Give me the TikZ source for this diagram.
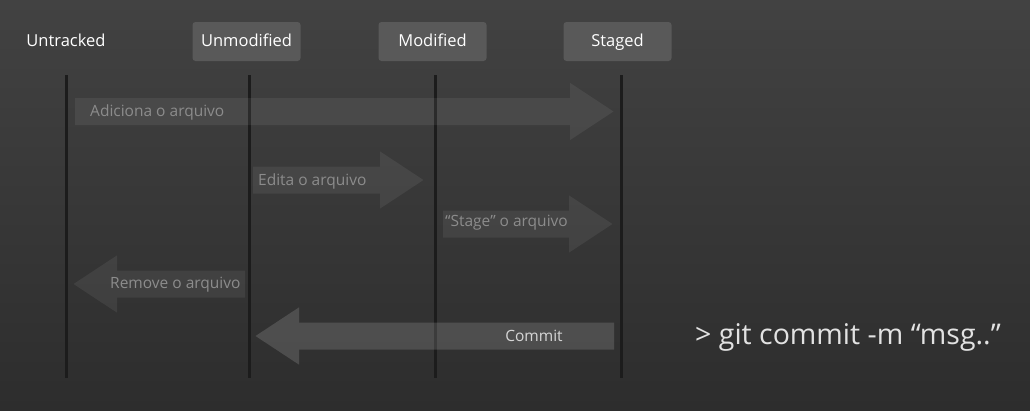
\documentclass[tikz,border=0pt]{standalone}
\usepackage{fontspec}
\setmainfont{Open Sans}
\usetikzlibrary{arrows.meta}

\definecolor{bgtop}{HTML}{424242}
\definecolor{bgbottom}{HTML}{2D2D2D}
\definecolor{boxgray}{HTML}{595959}
\definecolor{lanegray}{HTML}{1C1C1C}
\definecolor{labelgray}{HTML}{8C8C8C}
\definecolor{cmdgray}{HTML}{E2E2E2}

\begin{document}
\begin{tikzpicture}[x=1pt,y=-1pt,
  state/.style={rounded corners=3pt, fill=boxgray, minimum width=108pt, minimum height=39pt,
    text height=12pt, text depth=3pt, text=white, font=\fontsize{16.5}{19}\selectfont},
  lane/.style={line width=3pt, draw=lanegray},
  flow/.style={line width=27pt, draw=white, -{Triangle[width=54pt,length=44pt]}},
  flowtext/.style={text=labelgray, font=\fontsize{15.5}{18}\selectfont, anchor=base west, inner sep=0pt}]
\useasboundingbox (0,0) rectangle (1030,410);
\shade[top color=bgtop, middle color=bgtop!85!bgbottom, bottom color=bgbottom] (0,0) rectangle (1030,410);

% states
\node[state, fill=none] (untracked) at (66,41.5) {Untracked};
\node[state] (unmodified) at (246.5,41.5) {Unmodified};
\node[state] (modified) at (432.5,41.5) {Modified};
\node[state] (staged) at (617.5,41.5) {Staged};

% lanes
\foreach \name/\x in {untracked/66, unmodified/249, modified/435, staged/621} {
  \coordinate (\name-top) at (\x,75);
  \coordinate (\name-bot) at (\x,378);
  \draw[lane] (\name-top) -- (\name-bot);
}

% arrows
\coordinate (add-from) at (75,111.5);
\coordinate (add-to) at (614,111.5);
\coordinate (edit-from) at (253,180);
\coordinate (edit-to) at (424,180);
\coordinate (stage-from) at (443,224);
\coordinate (stage-to) at (613,224);
\coordinate (remove-from) at (245,284);
\coordinate (remove-to) at (73,284);
\coordinate (commit-from) at (614,336);
\coordinate (commit-to) at (255,336);

\begin{scope}[transparency group, opacity=0.065]
\draw[flow] (add-from) -- (add-to);
\draw[flow] (edit-from) -- (edit-to);
\draw[flow] (stage-from) -- (stage-to);
\draw[flow] (remove-from) -- (remove-to);
\end{scope}
\begin{scope}[transparency group, opacity=0.14]
\draw[flow] (commit-from) -- (commit-to);
\end{scope}

\node[flowtext] (add) at (90,116) {Adiciona o arquivo};
\node[flowtext] (edit) at (258,185) {Edita o arquivo};
\node[flowtext] (stage) at (445,226) {“Stage” o arquivo};
\node[flowtext] (remove) at (110,288.5) {Remove o arquivo};
\node[flowtext, anchor=base, text=white!84!black] (commit) at (534,341) {Commit};

% command
\node[text=cmdgray, font=\fontsize{28.5}{32}\selectfont, anchor=base west, inner sep=0pt] (cmd) at (695,344) {> git commit -m “msg..”};
\end{tikzpicture}
\end{document}
